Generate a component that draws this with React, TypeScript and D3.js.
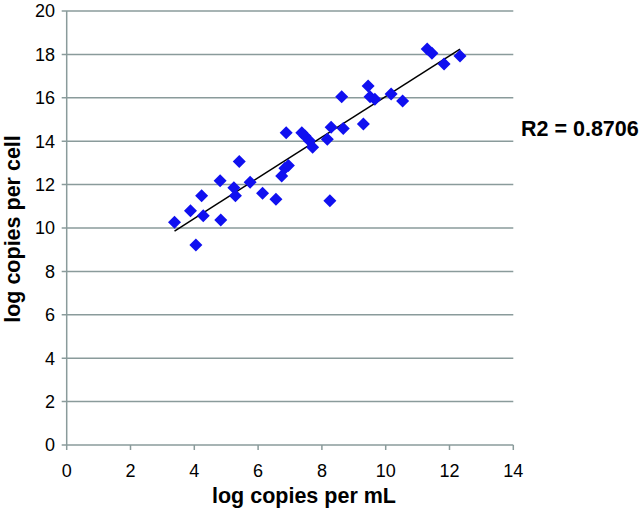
import React from "react";
import * as d3 from "d3";

const xVals = [3.38, 3.88, 4.05, 4.28, 4.23, 4.81, 4.83, 5.41, 5.24, 5.29, 5.75, 6.14, 6.56, 6.74, 6.84, 6.95, 6.88, 7.37, 7.47, 7.61, 7.71, 8.25, 8.17, 8.29, 8.67, 8.62, 9.30, 9.45, 9.51, 9.66, 10.17, 10.53, 11.30, 11.45, 11.83, 12.33];
const yVals = [10.27, 10.80, 9.22, 10.56, 11.49, 12.18, 10.37, 13.06, 11.86, 11.49, 12.11, 11.60, 11.32, 12.40, 12.75, 12.88, 14.39, 14.39, 14.24, 14.02, 13.72, 11.26, 14.09, 14.64, 14.58, 16.05, 14.79, 16.54, 16.05, 15.93, 16.17, 15.85, 18.25, 18.05, 17.56, 17.93];
const xTicks = [0, 2, 4, 6, 8, 10, 12, 14];
const yTicks = [0, 2, 4, 6, 8, 10, 12, 14, 16, 18, 20];
const xTitle = "log copies per mL";
const yTitle = "log copies per cell";
const r2Label = "R2 = 0.8706";

const W = 642, H = 513;
const L = 66.7, R = 513.3, T = 11, B = 445;
const gridColor = "#8a9b9b";
const font = "'Liberation Sans', Arial, sans-serif";

export default function App() {
  const x = d3.scaleLinear().domain([0, 14]).range([L, R]);
  const y = d3.scaleLinear().domain([0, 20]).range([B, T]);
  const pts = xVals.map((v, i) => [v, yVals[i]] as [number, number]);
  const mx = d3.mean(xVals)!, my = d3.mean(yVals)!;
  let sxy = 0, sxx = 0;
  pts.forEach(([a, b]) => { sxy += (a - mx) * (b - my); sxx += (a - mx) * (a - mx); });
  const slope = sxy / sxx, icpt = my - slope * mx;
  const x0 = d3.min(xVals)!, x1 = d3.max(xVals)!;
  const line = d3.line<[number, number]>().x(d => x(d[0])).y(d => y(d[1]));
  const s = 6.5;
  const dPath = `M0,${-s}L${s},0L0,${s}L${-s},0Z`;
  return (
    <svg width={W} height={H} style={{ position: "absolute", left: 0, top: 0, background: "#fff" }} fontFamily={font}>
      {yTicks.map(t => (
        <g key={"y" + t}>
          <line x1={L - 5} x2={R} y1={y(t)} y2={y(t)} stroke={gridColor} strokeWidth={1.5} />
          <text x={55} y={y(t)} dy="0.35em" textAnchor="end" fontSize={18} fill="#000">{t}</text>
        </g>
      ))}
      <line x1={L} x2={L} y1={T} y2={B} stroke={gridColor} strokeWidth={1.5} />
      {xTicks.map(t => (
        <g key={"x" + t}>
          <line x1={x(t)} x2={x(t)} y1={B} y2={B + 5} stroke={gridColor} strokeWidth={1.5} />
          <text x={x(t)} y={477} textAnchor="middle" fontSize={18} fill="#000">{t}</text>
        </g>
      ))}
      <path d={line([[x0, icpt + slope * x0], [x1, icpt + slope * x1]])!} stroke="#000" strokeWidth={1.5} fill="none" />
      {pts.map((p, i) => (
        <path key={i} d={dPath} transform={`translate(${x(p[0])},${y(p[1])})`} fill="#1010f0" />
      ))}
      <text x={304} y={503} textAnchor="middle" fontSize={21.5} fontWeight="bold">{xTitle}</text>
      <text transform={`translate(20,229) rotate(-90)`} textAnchor="middle" fontSize={21.5} fontWeight="bold">{yTitle}</text>
      <text x={521} y={136} fontSize={21.5} fontWeight="bold">{r2Label}</text>
    </svg>
  );
}
